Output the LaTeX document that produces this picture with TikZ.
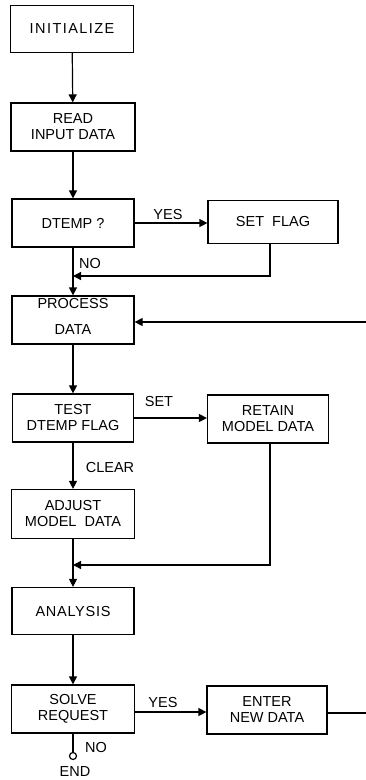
\documentclass[tikz,border=0pt]{standalone}
\usepackage{fontspec}
\setmainfont{Liberation Sans}
\usetikzlibrary{arrows.meta}
\begin{document}
\begin{tikzpicture}[x=1pt,y=-1pt,
  box/.style={draw,line width=1.2pt,rectangle,align=center,inner sep=0pt,
    font=\fontsize{14.5}{16}\selectfont},
  lbl/.style={font=\fontsize{14.5}{16}\selectfont,inner sep=0pt},
  flow/.style={line width=1.2pt,-{Triangle[length=8pt,width=8pt]}},
  ln/.style={line width=1.2pt}]
\useasboundingbox (0,0) rectangle (366,780);
\node[box,minimum width=123pt,minimum height=47pt] (init) at (72,29) {\addfontfeature{LetterSpace=10}INITIALIZE};
\node[box,minimum width=124pt,minimum height=48pt] (read) at (73,127) {READ\\INPUT DATA};
\node[box,minimum width=122pt,minimum height=48pt] (dtemp) at (73,223) {DTEMP ?};
\node[box,minimum width=130pt,minimum height=43pt] (setf) at (273,222) {SET\ \ FLAG};
\node[box,minimum width=122pt,minimum height=48pt] (proc) at (73,320) {};
\node[lbl,align=center] (proct) at (73,316) {PROCESS\\[10pt]DATA};
\node[box,minimum width=121pt,minimum height=48pt] (test) at (73,418) {TEST\\DTEMP FLAG};
\node[box,minimum width=121pt,minimum height=48pt] (retain) at (268,419) {RETAIN\\MODEL DATA};
\node[box,minimum width=123pt,minimum height=49pt] (adjust) at (73,514) {ADJUST\\MODEL\ \ DATA};
\node[box,minimum width=122pt,minimum height=47pt] (anal) at (73,611) {\addfontfeature{LetterSpace=5}ANALYSIS};
\node[box,minimum width=123pt,minimum height=48pt] (solve) at (73,709) {SOLVE\\REQUEST};
\node[box,minimum width=120pt,minimum height=48pt] (enter) at (267,710) {ENTER\\NEW DATA};

\coordinate (m1) at (73,276);
\coordinate (m2) at (73,565);
\coordinate (rtop) at (366,322);
\coordinate (rbot) at (366,713);
\node[draw,circle,line width=1.2pt,minimum size=7pt,inner sep=0pt] (endc) at (73,756) {};

\draw[flow] (init) -- (read);
\draw[flow] (read) -- (dtemp);
\draw[flow] (dtemp.east) -- (setf.west |- dtemp.east);
\draw[flow] (dtemp) -- (proc);
\draw[flow] (setf.south -| 270,0) -- (270,276) -- (m1);
\draw[flow] (rtop) -- (proc.east |- rtop);
\draw[flow] (proc) -- (test);
\draw[flow] (test.east) -- (retain.west |- test.east);
\draw[flow] (test) -- (adjust);
\draw[flow] (retain.south -| 270,0) -- (270,565) -- (m2);
\draw[flow] (adjust) -- (anal);
\draw[flow] (anal) -- (solve);
\draw[flow] (solve.east |- 0,712) -- (enter.west |- 0,712);
\draw[ln] (enter.east |- rbot) -- (rbot);
\draw[ln] (solve) -- (endc);

\node[lbl] (yes1) at (168,215) {YES};
\node[lbl] (no1) at (90,264) {NO};
\node[lbl] (set) at (159,402) {SET};
\node[lbl] (clear) at (110,468) {CLEAR};
\node[lbl] (yes2) at (163,702) {YES};
\node[lbl] (no2) at (96,747) {NO};
\node[lbl] (endl) at (75,772) {END};
\end{tikzpicture}
\end{document}
